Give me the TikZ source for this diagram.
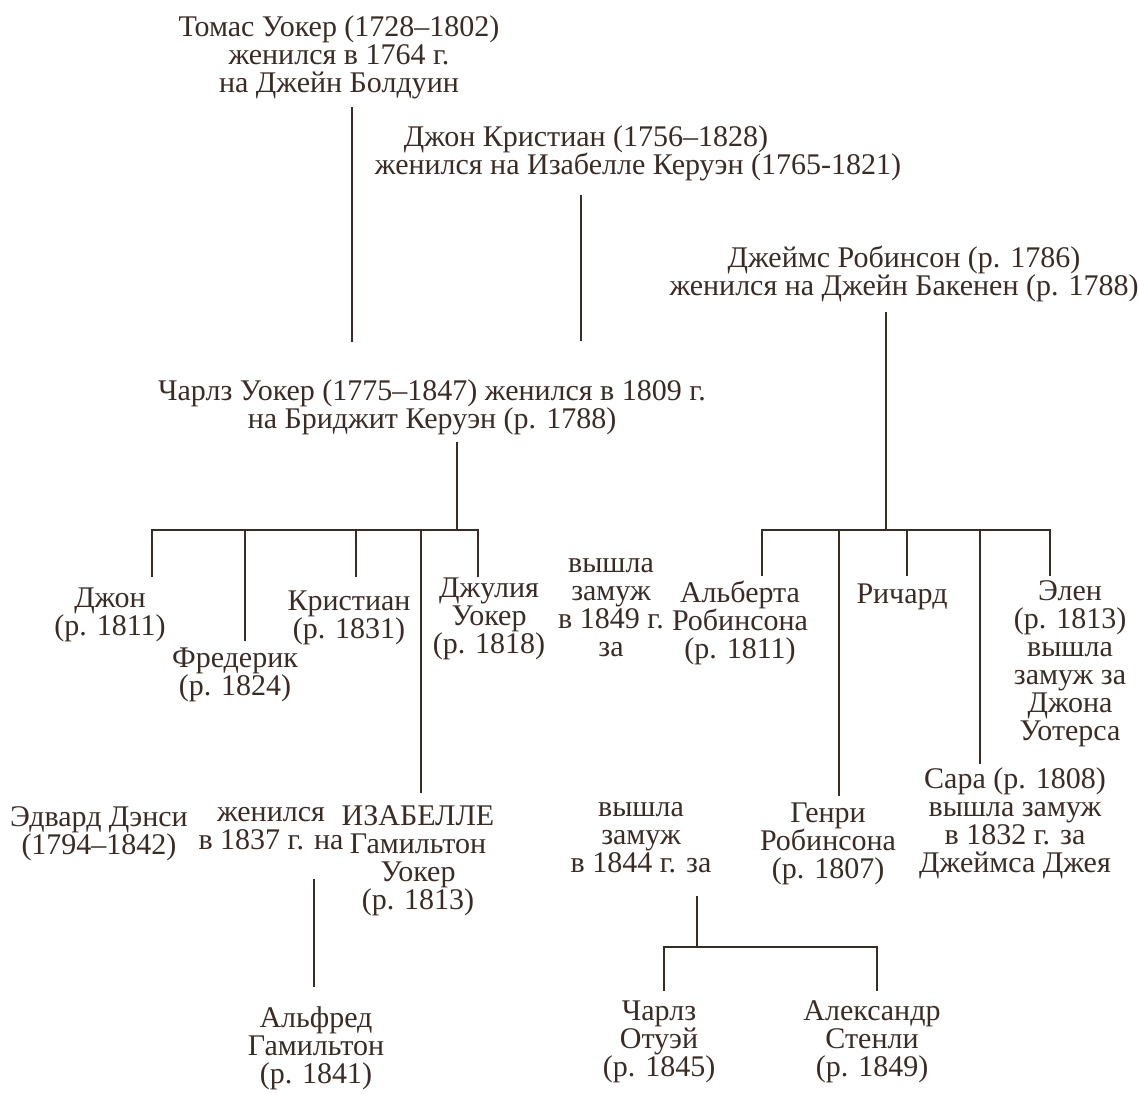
\documentclass[tikz,border=0pt]{standalone}
\usepackage{fontspec}
\setmainfont{Liberation Serif}
\definecolor{ink}{RGB}{58,44,36}
\tikzset{
  person/.style={anchor=north, inner sep=0pt, outer sep=0pt, align=center,
    text=ink, font=\fontsize{30}{28}\selectfont, yshift=22pt,
    execute at begin node={\rule{0pt}{22pt}}},
  link/.style={draw=ink, line width=2.2pt}
}
\begin{document}
\begin{tikzpicture}[x=1pt,y=-1pt]
\useasboundingbox (0,0) rectangle (1139,1093);
% people
\node[person] (tomas)   at (339,38)  {Томас Уокер (1728–1802)\\женился в 1764 г.\\на Джейн Болдуин};
\node[person] (christ)  at (638,148) {Джон Кристиан (1756–1828)\hspace{104pt}\mbox{}\\женился на Изабелле Керуэн (1765-1821)};
\node[person] (james)   at (904,268) {Джеймс Робинсон (р. 1786)\\женился на Джейн Бакенен (р. 1788)};
\node[person] (charles) at (432,402) {Чарлз Уокер (1775–1847) женился в 1809 г.\\на Бриджит Керуэн (р. 1788)};
\node[person] (john)    at (110,610) {Джон\\(р. 1811)};
\node[person] (fred)    at (235,670) {Фредерик\\(р. 1824)};
\node[person] (krist)   at (349,613) {Кристиан\\(р. 1831)};
\node[person] (julia)   at (489,600) {Джулия\\Уокер\\(р. 1818)};
\node[person] (mar1849) at (611,580) {вышла\\замуж\\в 1849 г.\\за};
\node[person] (alberta) at (740,603) {Альберта\\Робинсона\\(р. 1811)};
\node[person] (richard) at (902,603) {Ричард};
\node[person] (elen)    at (1070,603) {Элен\\(р. 1813)\\вышла\\замуж за\\Джона\\Уотерса};
\node[person] (sara)    at (1015,790) {Сара (р. 1808)\\вышла замуж\\в 1832 г. за\\Джеймса Джея};
\node[person] (henry)   at (828,825) {Генри\\Робинсона\\(р. 1807)};
\node[person] (mar1844) at (641,824) {вышла\\замуж\\в 1844 г. за};
\node[person] (edward)  at (99,829)  {Эдвард Дэнси\\(1794–1842)};
\node[person] (mar1837) at (271,829) {женился\\в 1837 г. на};
\node[person] (isabelle) at (418,828) {ИЗАБЕЛЛЕ\\Гамильтон\\Уокер\\(р. 1813)};
\node[person] (alfred)  at (316,1029) {Альфред\\Гамильтон\\(р. 1841)};
\node[person] (otway)   at (659,1023) {Чарлз\\Отуэй\\(р. 1845)};
\node[person] (stanley) at (872,1023) {Александр\\Стенли\\(р. 1849)};
% connector x positions and junctions
\coordinate (xA) at (352,0);
\coordinate (xB) at (581,0);
\coordinate (jL) at (457,530);
\coordinate (jR) at (886,530);
\coordinate (jB) at (697,947);
\coordinate (xJohn) at (152,0);
\coordinate (xFred) at (245,0);
\coordinate (xKrist) at (356,0);
\coordinate (xIsa) at (421,0);
\coordinate (xJulia) at (478,0);
\coordinate (xAlb) at (762,0);
\coordinate (xHen) at (839,0);
\coordinate (xRich) at (907,0);
\coordinate (xSara) at (980,0);
\coordinate (xElen) at (1050,0);
\coordinate (xOtw) at (664,0);
\coordinate (xSta) at (877,0);
\coordinate (xAlf) at (314,0);
% parents to Charles
\draw[link, shorten <=8pt, shorten >=38pt] (tomas.south -| xA) -- (charles.north -| xA);
\draw[link, shorten <=14pt, shorten >=39pt] (christ.south -| xB) -- (charles.north -| xB);
% Charles's children
\draw[link, shorten <=7pt] (charles.south -| jL) -- (jL);
\draw[link] ([yshift=11pt]john.north -| xJohn) -- (jL -| xJohn) -- (jL -| xJulia) -- ([yshift=1pt]julia.north -| xJulia);
\draw[link] (jL -| xFred) -- ([yshift=7pt]fred.north -| xFred);
\draw[link] (jL -| xKrist) -- ([yshift=14pt]krist.north -| xKrist);
\draw[link] (jL -| xIsa) -- ([yshift=13pt]isabelle.north -| xIsa);
% Robinson children
\draw[link, shorten <=10pt] (james.south -| jR) -- (jR);
\draw[link] ([yshift=5pt]alberta.north -| xAlb) -- (jR -| xAlb) -- (jR -| xElen) -- ([yshift=5pt]elen.north -| xElen);
\draw[link] (jR -| xHen) -- ([yshift=7pt]henry.north -| xHen);
\draw[link] (jR -| xRich) -- ([yshift=5pt]richard.north -| xRich);
\draw[link] (jR -| xSara) -- ([yshift=4pt]sara.north -| xSara);
% 1844 marriage children
\draw[link, shorten <=23pt] (mar1844.south -| jB) -- (jB);
\draw[link] ([yshift=10pt]otway.north -| xOtw) -- (jB -| xOtw) -- (jB -| xSta) -- ([yshift=10pt]stanley.north -| xSta);
% 1837 marriage child
\draw[link, shorten <=29pt, shorten >=20pt] (mar1837.south -| xAlf) -- (alfred.north -| xAlf);
\end{tikzpicture}
\end{document}
